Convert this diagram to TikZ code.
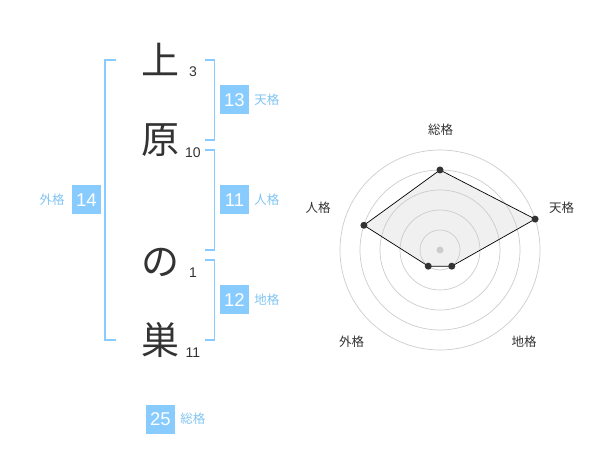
\documentclass[tikz,border=0pt]{standalone}
\usepackage{fontspec}
\usetikzlibrary{positioning}
\setmainfont{Liberation Sans}
\newfontfamily\jp{Noto Sans CJK JP}
\definecolor{kakublue}{HTML}{88CCFF}
\definecolor{kakutext}{HTML}{80C4F2}
\definecolor{inkgray}{HTML}{333333}
\definecolor{ringgray}{HTML}{CCCCCC}
\definecolor{webfill}{HTML}{F0F0F0}
\tikzset{
    kanji/.style={inner sep=0pt, text=inkgray, font=\jp\fontsize{38}{38}\selectfont},
    strokes/.style={inner sep=0pt, text=inkgray, font=\fontsize{14}{14}\selectfont},
    kakubox/.style={fill=kakublue, text=white, minimum size=29pt, inner sep=0pt,
        font=\fontsize{18.5}{18.5}\selectfont},
    kakulabel/.style={inner sep=0pt, text=kakutext, font=\jp\fontsize{12.5}{12.5}\selectfont},
    bracket/.style={draw=kakublue, line width=1.5pt},
    ring/.style={draw=ringgray, line width=0.7pt},
    web/.style={draw=black, line width=0.7pt},
    axislabel/.style={inner sep=0pt, text=inkgray, font=\jp\fontsize{12.5}{12.5}\selectfont}
}
\begin{document}
\begin{tikzpicture}[x=1pt, y=-1pt]
    \useasboundingbox (0,0) rectangle (600,470);
    % name
    \node[kanji] (c1) at (160,59) {上};
    \node[kanji] (c2) at (160,140) {原};
    \node[kanji] (c3) at (160,262) {の};
    \node[kanji] (c4) at (160,340) {巣};
    \node[strokes] (s1) at (193,72) {3};
    \node[strokes] (s2) at (193,153) {10};
    \node[strokes] (s3) at (193,273) {1};
    \node[strokes] (s4) at (193,353) {11};
    % brackets
    \draw[bracket] (116,60)--(105,60)--(105,340)--(116,340);
    \draw[bracket] (205,60)--(214.5,60)--(214.5,140)--(205,140);
    \draw[bracket] (205,150)--(214.5,150)--(214.5,250)--(205,250);
    \draw[bracket] (205,260)--(214.5,260)--(214.5,340)--(205,340);
    % kaku
    \node[kakubox] (ten) at (234.5,100) {13};
    \node[kakulabel, right=5pt of ten] (tenl) {天格};
    \node[kakubox] (jin) at (234.5,200) {11};
    \node[kakulabel, right=5pt of jin] (jinl) {人格};
    \node[kakubox] (chi) at (234.5,300) {12};
    \node[kakulabel, right=5pt of chi] (chil) {地格};
    \node[kakubox] (gai) at (86.5,200) {14};
    \node[kakulabel, left=7pt of gai] (gail) {外格};
    \node[kakubox] (sou) at (160.5,419) {25};
    \node[kakulabel, right=5pt of sou] (soul) {総格};
    % radar
    \begin{scope}[shift={(440,250)}, y=1pt]
        \coordinate (p1) at (90:80);
        \coordinate (p2) at (18:100);
        \coordinate (p3) at (-54:20);
        \coordinate (p4) at (-126:20);
        \coordinate (p5) at (162:80);
        \fill[webfill] (p1)--(p2)--(p3)--(p4)--(p5)--cycle;
        \foreach \r in {20,40,...,100}
            \draw[ring] (0,0) circle (\r);
        \draw[web] (p1)--(p2)--(p3)--(p4)--(p5)--cycle;
        \foreach \p in {p1,p2,p3,p4,p5}
            \fill[inkgray] (\p) circle (3.5);
        \fill[ringgray] (0,0) circle (3.5);
    \end{scope}
    \node[axislabel] (a1) at (440.5,130) {総格};
    \node[axislabel] (a2) at (561.5,208) {天格};
    \node[axislabel] (a3) at (318,208) {人格};
    \node[axislabel] (a4) at (351.5,342) {外格};
    \node[axislabel] (a5) at (524,342) {地格};
\end{tikzpicture}
\end{document}
